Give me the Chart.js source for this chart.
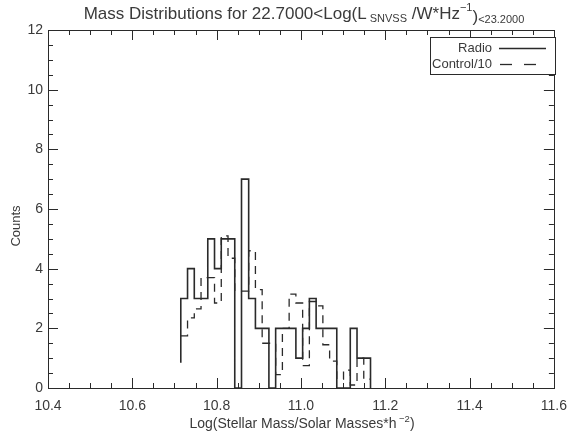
<!DOCTYPE html>
<html><head><meta charset="utf-8">
<script src="https://cdn.jsdelivr.net/npm/chart.js@4"></script>
<style>html,body{margin:0;padding:0;background:#fff;}#wrap{width:577px;height:437px;}</style>
</head><body><div id="wrap"><canvas id="c" width="577" height="437"></canvas></div>
<script>
// Bin left edges (last value = right edge of last bin), log stellar mass
const binEdges = [10.715, 10.731, 10.747, 10.763, 10.779, 10.795, 10.811, 10.827, 10.843, 10.859,
                  10.876, 10.892, 10.908, 10.924, 10.940, 10.956, 10.972, 10.988, 11.004, 11.020,
                  11.036, 11.052, 11.068, 11.085, 11.101, 11.117, 11.133, 11.149, 11.165];
// Radio counts per bin
const radioCounts = [3, 4, 3, 3, 5, 4, 5, 5, 0, 7,
                     3, 2, 2, 0, 2, 2, 2, 1, 2, 3,
                     2, 2, 2, 0, 0, 2, 1, 1];
const radioStartLevel = 0.85;
const radioEndLevel = 0;
// Control counts divided by 10
const controlCounts = [1.75, 2.35, 2.65, 3.7, 3.7, 2.85, 5.1, 4.35, 3.25, 3.25,
                       4.6, 3.3, 1.5, 1.5, 0.45, 2.0, 3.15, 2.85, 0.75, 2.9,
                       2.75, 1.45, 0.9, 0.3, 0.6, 0.1, 1.0, 0.3];
const xTickValues = [10.4, 10.6, 10.8, 11.0, 11.2, 11.4, 11.6];
const yTickValues = [0, 2, 4, 6, 8, 10, 12];
const seriesNames = ['Radio', 'Control/10'];

const FONT = '"Liberation Sans", Arial, sans-serif';
const TXT = '#3a3a3a';
const LINE = '#2a2a2a';

const radioPts = [{x: binEdges[0], y: radioStartLevel}];
radioCounts.forEach((c, i) => radioPts.push({x: binEdges[i], y: c}));
radioPts.push({x: binEdges[binEdges.length - 1], y: radioEndLevel});

const ctrlPts = controlCounts.map((c, i) => ({x: binEdges[i], y: c}));
ctrlPts.push({x: binEdges[binEdges.length - 1], y: controlCounts[controlCounts.length - 1]});

function drawRuns(ctx, runs, cx, baseY) {
  let total = 0;
  runs.forEach(r => { ctx.font = r.size + 'px ' + FONT; r.w = ctx.measureText(r.t).width; total += r.w; });
  let xx = cx - total / 2;
  ctx.textAlign = 'left'; ctx.textBaseline = 'alphabetic';
  runs.forEach(r => { ctx.font = r.size + 'px ' + FONT; ctx.fillText(r.t, xx, baseY + (r.dy || 0)); xx += r.w; });
}

const framePlugin = {
  id: 'frame',
  afterDraw(chart) {
    const {ctx, chartArea: a, scales: {x, y}} = chart;
    ctx.save();
    ctx.strokeStyle = LINE; ctx.lineWidth = 1;
    ctx.strokeRect(Math.round(a.left) + 0.5, Math.round(a.top) + 0.5, Math.round(a.right - a.left), Math.round(a.bottom - a.top));
    ctx.beginPath();
    for (let i = 0; i <= 24; i++) {
      const v = xTickValues[0] + i * 0.05;
      const px = Math.round(x.getPixelForValue(v)) + 0.5;
      const L = (i % 4 === 0) ? 10 : 5;
      ctx.moveTo(px, a.bottom); ctx.lineTo(px, a.bottom - L);
      ctx.moveTo(px, a.top); ctx.lineTo(px, a.top + L);
    }
    for (let i = 0; i <= 24; i++) {
      const v = i * 0.5;
      const py = Math.round(y.getPixelForValue(v)) + 0.5;
      const L = (i % 4 === 0) ? 10 : 5;
      ctx.moveTo(a.left, py); ctx.lineTo(a.left + L, py);
      ctx.moveTo(a.right, py); ctx.lineTo(a.right - L, py);
    }
    ctx.stroke();

    // Legend
    const lx = 430, ly = 37, lw = 125, lh = 37;
    ctx.fillStyle = '#fff'; ctx.fillRect(lx, ly, lw, lh);
    ctx.strokeRect(lx + 0.5, ly + 0.5, lw, lh);
    ctx.fillStyle = TXT; ctx.font = '13px ' + FONT; ctx.textAlign = 'right'; ctx.textBaseline = 'middle';
    ctx.fillText(seriesNames[0], 492, 48);
    ctx.fillText(seriesNames[1], 492, 64);
    ctx.lineWidth = 1.3;
    ctx.beginPath(); ctx.moveTo(499, 48.5); ctx.lineTo(546, 48.5); ctx.stroke();
    ctx.setLineDash([12, 12]);
    ctx.beginPath(); ctx.moveTo(500, 64.5); ctx.lineTo(536, 64.5); ctx.stroke();
    ctx.setLineDash([]);

    // Title
    ctx.fillStyle = TXT;
    drawRuns(ctx, [
      {t: 'Mass Distributions for 22.7000<Log(L', size: 17},
      {t: ' SNVSS', size: 11, dy: 3},
      {t: ' /W*Hz', size: 17},
      {t: '\u22121', size: 11, dy: -8},
      {t: ')', size: 17, dy: 3},
      {t: '<23.2000', size: 11, dy: 4}
    ], 304, 19);

    // X title
    drawRuns(ctx, [
      {t: 'Log(Stellar Mass/Solar Masses*h', size: 14},
      {t: ' \u22122', size: 9.5, dy: -6},
      {t: ')', size: 14}
    ], 302, 428);

    // Y title
    ctx.save();
    ctx.translate(16, 226); ctx.rotate(-Math.PI / 2);
    ctx.font = '13px ' + FONT; ctx.textAlign = 'center'; ctx.textBaseline = 'middle';
    ctx.fillText('Counts', 0, 0);
    ctx.restore();
    ctx.restore();
  }
};

new Chart(document.getElementById('c'), {
  type: 'line',
  data: {
    datasets: [
      {label: seriesNames[0], data: radioPts, stepped: true, borderColor: LINE, borderWidth: 1.6,
       pointRadius: 0, fill: false},
      {label: seriesNames[1], data: ctrlPts, stepped: true, borderColor: LINE, borderWidth: 1.3,
       borderDash: [8, 6], pointRadius: 0, fill: false}
    ]
  },
  options: {
    responsive: false, animation: false, devicePixelRatio: 1,
    layout: {padding: {top: 30, right: 15, left: 0, bottom: 0}},
    plugins: {legend: {display: false}, tooltip: {enabled: false}, title: {display: false}},
    scales: {
      x: {
        type: 'linear', min: 10.4, max: 11.6,
        afterBuildTicks: s => { s.ticks = xTickValues.map(v => ({value: v})); },
        ticks: {callback: v => Number(v).toFixed(1), color: TXT, font: {family: FONT, size: 14},
                padding: 10, maxRotation: 0, autoSkip: false},
        grid: {display: false, drawTicks: false}, border: {display: false},
        afterFit: s => { s.height = 49; }
      },
      y: {
        min: 0, max: 12,
        afterBuildTicks: s => { s.ticks = yTickValues.map(v => ({value: v})); },
        ticks: {color: TXT, font: {family: FONT, size: 14}, padding: 5, autoSkip: false},
        grid: {display: false, drawTicks: false}, border: {display: false},
        afterFit: s => { s.width = 48; }
      }
    }
  },
  plugins: [framePlugin]
});
</script>
</body></html>
